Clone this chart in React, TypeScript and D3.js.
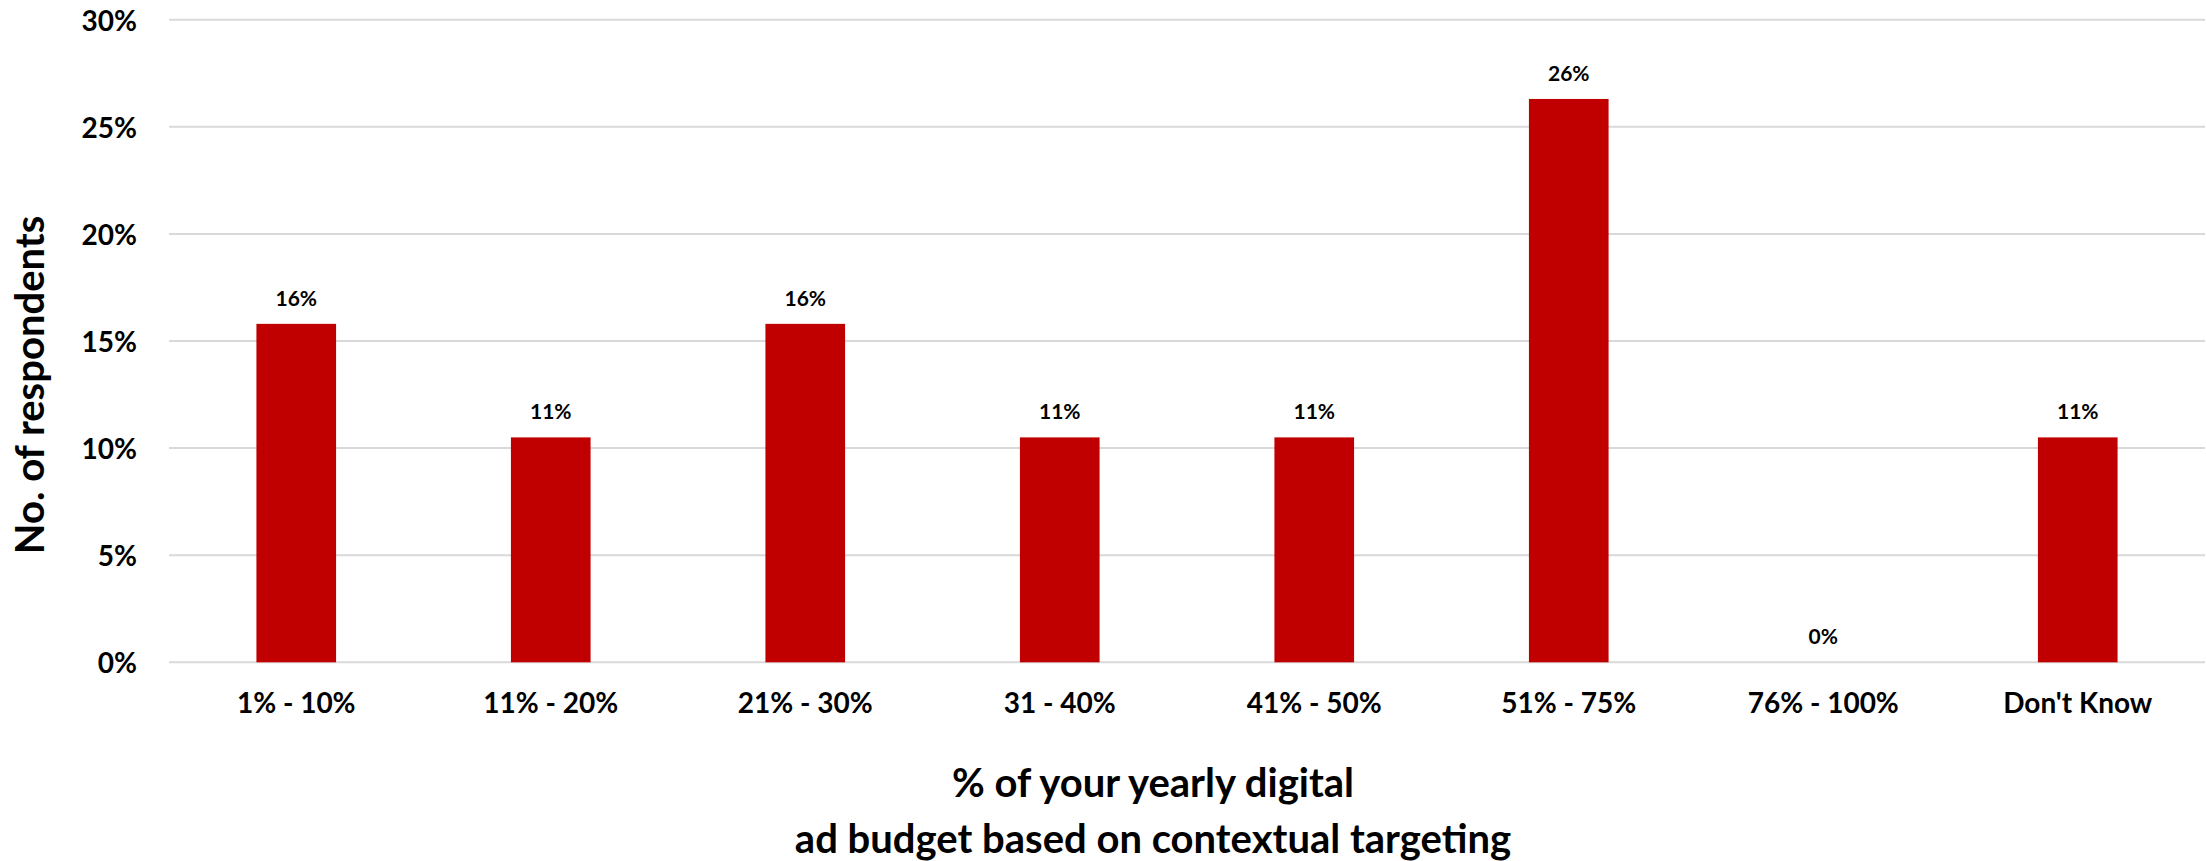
import React from "react";
import * as d3 from "d3";

const categories = ["1% - 10%", "11% - 20%", "21% - 30%", "31 - 40%", "41% - 50%", "51% - 75%", "76% - 100%", "Don't Know"];
const values = [0.158, 0.105, 0.158, 0.105, 0.105, 0.263, 0, 0.105];
const valueLabels = ["16%", "11%", "16%", "11%", "11%", "26%", "0%", "11%"];
const yTicks = [0, 0.05, 0.1, 0.15, 0.2, 0.25, 0.3];
const yTitle = "No. of respondents";
const xTitleLines = ["% of your yearly digital", "ad budget based on contextual targeting"];

const W = 2206;
const H = 861;
const margin = { left: 169, right: 1, top: 19.7, bottom: H - 662.3 };
const FONT = "Lato, 'Open Sans', sans-serif";

export default function App() {
  const x = d3
    .scaleBand<string>()
    .domain(categories)
    .range([margin.left, W - margin.right])
    .paddingInner(0.687)
    .paddingOuter(0.3435);
  const y = d3.scaleLinear().domain([0, 0.3]).range([H - margin.bottom, margin.top]);
  const fmt = d3.format(".0%");

  return (
    <svg
      width={W}
      height={H}
      style={{ position: "absolute", left: 0, top: 0, background: "#fff" }}
      fontFamily={FONT}
    >
      <rect x={0} y={0} width={W} height={H} fill="#fff" />
      {yTicks.map((t) => (
        <g key={t}>
          <line x1={margin.left} x2={W - margin.right} y1={y(t)} y2={y(t)} stroke="#d9d9d9" strokeWidth={2} />
          <text
            x={137}
            y={y(t)}
            textAnchor="end"
            dominantBaseline="central"
            fontSize={28}
            fontWeight={700}
            fill="#000"
          >
            {fmt(t)}
          </text>
        </g>
      ))}
      {categories.map((c, i) => (
        <g key={c}>
          <rect
            x={x(c)!}
            y={y(values[i])}
            width={x.bandwidth()}
            height={y(0) - y(values[i])}
            fill="#C00000"
          />
          <text
            x={x(c)! + x.bandwidth() / 2}
            y={y(values[i]) - 18}
            textAnchor="middle"
            fontSize={21}
            fontWeight={700}
            fill="#000"
          >
            {valueLabels[i]}
          </text>
          <text
            x={x(c)! + x.bandwidth() / 2}
            y={713}
            textAnchor="middle"
            fontSize={28}
            fontWeight={700}
            fill="#000"
          >
            {c}
          </text>
        </g>
      ))}
      <text
        transform={`translate(44,385) rotate(-90)`}
        textAnchor="middle"
        fontSize={40}
        fontWeight={700}
        fill="#000"
      >
        {yTitle}
      </text>
      {xTitleLines.map((l, i) => (
        <text
          key={l}
          x={1153}
          y={797 + i * 56}
          textAnchor="middle"
          fontSize={40}
          fontWeight={700}
          fill="#000"
        >
          {l}
        </text>
      ))}
    </svg>
  );
}
